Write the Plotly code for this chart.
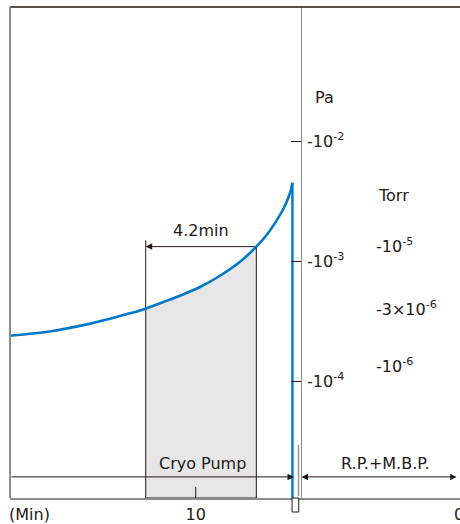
import math
import plotly.graph_objects as go

# ---------------- data ----------------
time_min = [17.05, 15.5, 14.0, 13.25, 12.5, 11.9, 11.23, 10.6, 9.84, 9.08, 8.32, 7.7, 7.25, 6.69, 6.42, 6.33]
pressure_pa = [2.40e-4, 2.62e-4, 3.03e-4, 3.33e-4, 3.69e-4, 4.04e-4, 4.59e-4, 5.18e-4,
               6.12e-4, 7.60e-4, 9.94e-4, 1.33e-3, 1.73e-3, 2.70e-3, 3.73e-3, 4.53e-3]

cryo_start_min = 11.9
cryo_end_min = 7.7
cryo_label = "Cryo Pump"
cryo_span_label = "4.2min"
rp_label = "R.P.+M.B.P."
switch_min = 6.015

pa_tickvals = [1e-2, 1e-3, 1e-4]
pa_ticktext = ["-10<sup>-2</sup>", "-10<sup>-3</sup>", "-10<sup>-4</sup>"]
torr_values = [1e-5, 3e-6, 1e-6]
torr_ticktext = ["-10<sup>-5</sup>", "-3×10<sup>-6</sup>", "-10<sup>-6</sup>"]
x_tickvals = [10]
x_ticktext = ["10"]
x_end_value = 0
x_end_text = "0"
x_unit_text = "(Min)"
TORR_TO_PA = 133.322

# ---------------- style / layout constants ----------------
W, H = 460, 524
M_L, M_R, M_T, M_B = 10, 0, 7, 26
PLOT_H = H - M_T - M_B
PLOT_W = W - M_L - M_R
X_RANGE = [17.05, -0.03]
Y_LOG_RANGE = [-4.973, -0.8775]
BLUE = "#0078c8"
DARK = "#231815"
GRAY = "#8c8c8c"
FILL = "#e6e6e6"
FONT = "DejaVu Sans"

ybot = 10 ** Y_LOG_RANGE[0]


def xpaper(t):
    return (X_RANGE[0] - t) / (X_RANGE[0] - X_RANGE[1])


def tfont(size=16):
    return dict(size=size, color=DARK, family=FONT)


fig = go.Figure()

# shaded cryo pump region under the curve
fx, fy = [], []
for t, p in zip(time_min, pressure_pa):
    if cryo_end_min <= t <= cryo_start_min:
        fx.append(t)
        fy.append(p)
fx += [cryo_end_min, cryo_start_min]
fy += [ybot, ybot]
fig.add_trace(go.Scatter(x=fx, y=fy, mode="lines", fill="toself", fillcolor=FILL,
                         line=dict(width=0), hoverinfo="skip", showlegend=False))

p_end = pressure_pa[time_min.index(cryo_end_min)]
box_top = p_end * 1.13
fig.add_trace(go.Scatter(
    x=[cryo_start_min, cryo_start_min, None, cryo_start_min, cryo_end_min, cryo_end_min],
    y=[box_top, ybot, None, ybot, ybot, p_end],
    mode="lines", line=dict(color=DARK, width=1), hoverinfo="skip", showlegend=False))

# pressure curve
fig.add_trace(go.Scatter(x=time_min, y=pressure_pa, mode="lines",
                         line=dict(color=BLUE, width=2.6, shape="spline", smoothing=0.8),
                         hoverinfo="skip", showlegend=False))
# vertical drop
fig.add_trace(go.Scatter(x=[time_min[-1], time_min[-1]], y=[pressure_pa[-1], ybot], mode="lines",
                         line=dict(color=BLUE, width=2.4), hoverinfo="skip", showlegend=False))
# dummy for torr axis
fig.add_trace(go.Scatter(x=[None], y=[None], yaxis="y2", showlegend=False, hoverinfo="skip"))

arrow_y = -4.797
label_y = (498 - 514) / PLOT_H
annotations = [
    dict(x=cryo_start_min, y=math.log10(p_end), ax=cryo_end_min, ay=math.log10(p_end),
         xref="x", yref="y", axref="x", ayref="y", text="", showarrow=True,
         arrowhead=2, arrowsize=1.3, arrowwidth=1, arrowcolor=DARK, standoff=0),
    dict(x=6.27, y=arrow_y, ax=X_RANGE[0], ay=arrow_y, xref="x", yref="y", axref="x", ayref="y",
         text="", showarrow=True, arrowhead=2, arrowsize=1.3, arrowwidth=1, arrowcolor=DARK, standoff=0),
    dict(x=switch_min - 0.03, y=arrow_y, ax=0.04, ay=arrow_y, xref="x", yref="y", axref="x", ayref="y",
         text="", showarrow=True, arrowhead=2, arrowside="end+start", arrowsize=1.3, arrowwidth=1,
         arrowcolor=DARK, standoff=0, startstandoff=0),
    dict(x=(cryo_start_min + cryo_end_min) / 2, y=-2.744, xref="x", yref="y", text=cryo_span_label,
         showarrow=False, font=tfont(), xanchor="center", yanchor="middle"),
    dict(x=9.73, y=-4.686, xref="x", yref="y", text=cryo_label,
         showarrow=False, font=tfont(), xanchor="center", yanchor="middle"),
    dict(x=2.8, y=-4.686, xref="x", yref="y", text=rp_label,
         showarrow=False, font=tfont(), xanchor="center", yanchor="middle"),
    dict(x=(324.5 - M_L) / PLOT_W, y=(498 - 98) / PLOT_H, xref="paper", yref="paper", text="Pa",
         showarrow=False, font=tfont(), xanchor="center", yanchor="middle"),
    dict(x=(393 - M_L) / PLOT_W, y=(498 - 195) / PLOT_H, xref="paper", yref="paper", text="Torr",
         showarrow=False, font=tfont(), xanchor="center", yanchor="middle"),
    dict(x=(29 - M_L) / PLOT_W, y=label_y, xref="paper", yref="paper", text=x_unit_text,
         showarrow=False, font=tfont(), xanchor="center", yanchor="middle"),
    dict(x=x_end_value, y=label_y, xref="x", yref="paper", text=x_end_text,
         showarrow=False, font=tfont(), xanchor="center", yanchor="middle"),
]

shapes = [
    dict(type="line", xref="paper", yref="paper", x0=0, x1=1, y0=1, y1=1, line=dict(color=DARK, width=1.5)),
    dict(type="line", xref="paper", yref="paper", x0=0, x1=0, y0=0, y1=1, line=dict(color=GRAY, width=2)),
    dict(type="line", xref="x", yref="paper", x0=10, x1=10, y0=0, y1=11 / PLOT_H, line=dict(color=DARK, width=1)),
    dict(type="rect", xref="x", yref="paper", x0=6.345, x1=6.09, y0=0, y1=-14 / PLOT_H,
         line=dict(color=DARK, width=1), fillcolor="white"),
    dict(type="line", xref="x", yref="paper", x0=6.1, x1=6.1, y0=2 / PLOT_H, y1=53 / PLOT_H,
         line=dict(color=GRAY, width=1.3)),
]

fig.update_layout(
    width=W, height=H,
    margin=dict(l=M_L, r=M_R, t=M_T, b=M_B, autoexpand=False),
    paper_bgcolor="white", plot_bgcolor="white",
    showlegend=False,
    font=dict(family=FONT, color=DARK, size=16),
    xaxis=dict(range=X_RANGE, showline=True, linecolor=GRAY, linewidth=1.5, showgrid=False,
               zeroline=False, tickvals=x_tickvals, ticktext=x_ticktext, ticks="", automargin=False,
               tickfont=tfont(), ticklabelstandoff=1),
    yaxis=dict(type="log", range=Y_LOG_RANGE, anchor="free", position=xpaper(switch_min), side="right",
               showline=True, linecolor=GRAY, linewidth=1.3, ticks="inside", ticklen=10, tickwidth=1,
               tickcolor=DARK, tickvals=pa_tickvals, ticktext=pa_ticktext, showgrid=False, zeroline=False,
               automargin=False, tickfont=tfont(), ticklabelstandoff=2),
    yaxis2=dict(type="log", range=Y_LOG_RANGE, overlaying="y", anchor="free", position=(375 - M_L) / PLOT_W,
                side="right", showline=False, ticks="", showgrid=False, zeroline=False, automargin=False,
                tickvals=[v * TORR_TO_PA for v in torr_values], ticktext=torr_ticktext,
                tickfont=tfont()),
    annotations=annotations,
    shapes=shapes,
)

fig.write_html("out.html")
